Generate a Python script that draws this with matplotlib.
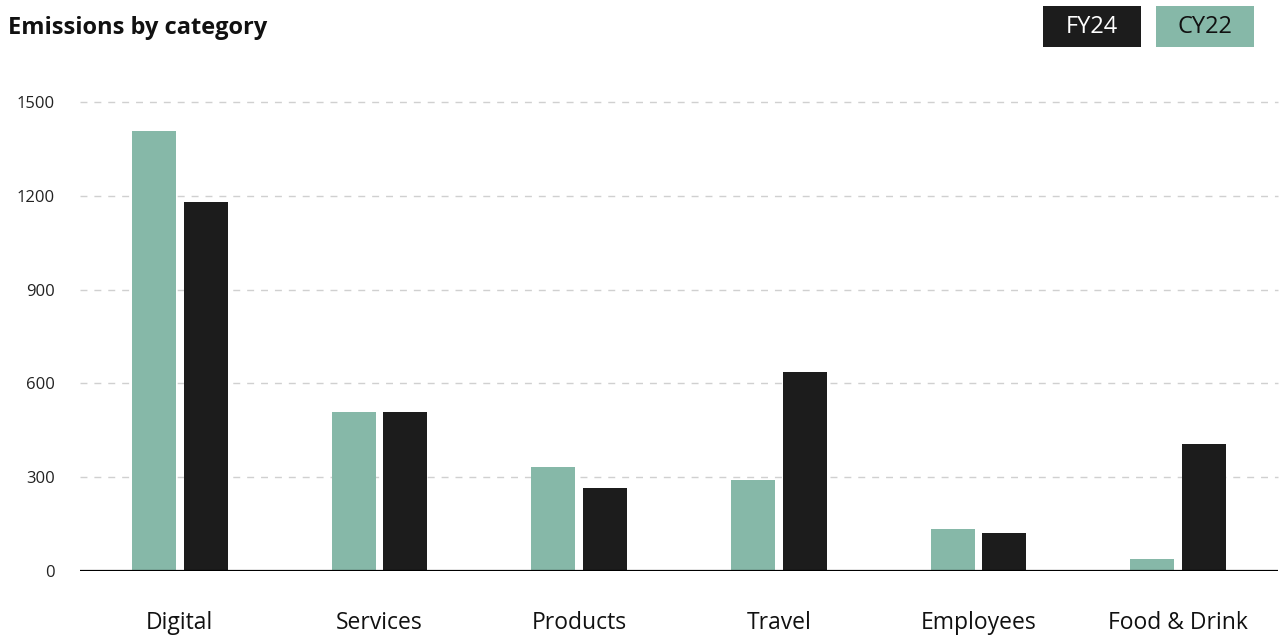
import numpy as np
from matplotlib import pyplot as plt
from matplotlib.patches import Rectangle

categories = ["Digital", "Services", "Products", "Travel", "Employees", "Food & Drink"]
cy22 = [1407, 508, 333, 291, 134, 38]
fy24 = [1180, 508, 265, 636, 121, 406]
yticks = [0, 300, 600, 900, 1200, 1500]

GREEN = "#86b8a8"
BLACK = "#1c1c1c"


def main():
    plt.rcParams["font.family"] = ["Open Sans", "DejaVu Sans"]
    fig = plt.figure(figsize=(12.83, 6.35), dpi=100)
    ax = fig.add_axes([80 / 1283, 64 / 635, 1198 / 1283, 469 / 635])

    x = np.arange(len(categories))
    ax.bar(x - 0.13, cy22, width=0.22, color=GREEN, zorder=3)
    ax.bar(x + 0.13, fy24, width=0.22, color=BLACK, zorder=3)

    ax.set_xlim(-0.5, len(categories) - 0.5)
    ax.set_ylim(0, 1500)
    ax.set_yticks(yticks)
    ax.set_yticklabels([str(v) for v in yticks], fontsize=12, color="#222222")
    ax.set_xticks(x)
    ax.set_xticklabels(categories, fontsize=16.5, color="#111111")
    ax.tick_params(axis="y", length=0, pad=18)
    ax.tick_params(axis="x", length=0, pad=29)

    for v in yticks[1:]:
        ax.axhline(v, color="#d0d0d0", lw=1, ls=(0, (5, 5)), zorder=1, clip_on=False)
    ax.axhline(0, color="black", lw=1.6, zorder=4)

    for s in ax.spines.values():
        s.set_visible(False)

    fig.text(8 / 1283, 1 - 28 / 635, "Emissions by category", fontsize=17,
             fontweight="bold", va="center", ha="left", color="#111111")

    # legend boxes
    for x0, label, fc, tc in [(1043, "FY24", BLACK, "white"), (1156, "CY22", GREEN, "#111111")]:
        fig.patches.append(Rectangle((x0 / 1283, 1 - 47 / 635), 98 / 1283, 41 / 635,
                                     transform=fig.transFigure, facecolor=fc, edgecolor="none"))
        fig.text((x0 + 49) / 1283, 1 - 27 / 635, label, fontsize=17, ha="center", va="center", color=tc)

    fig.savefig("out.png", dpi=100)


if __name__ == "__main__":
    main()
